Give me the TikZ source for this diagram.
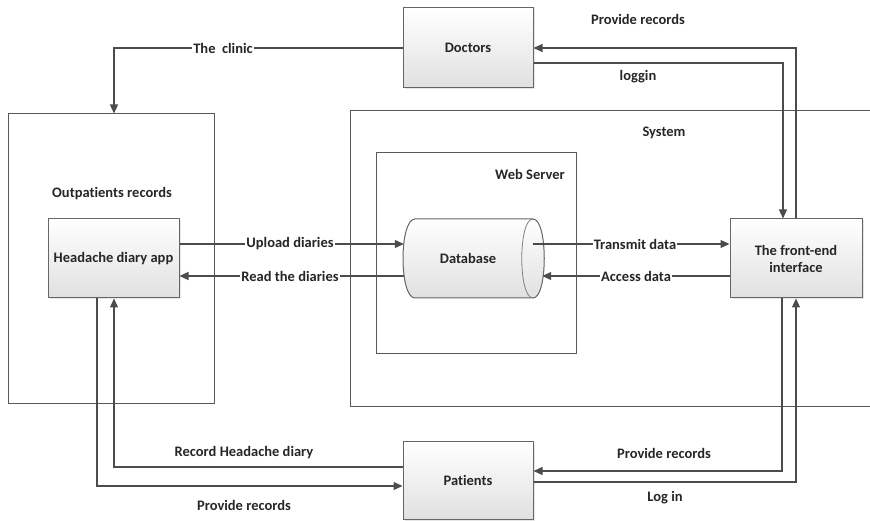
\documentclass[tikz,border=0pt]{standalone}
\usepackage{fontspec}
\setmainfont[Ligatures=NoCommon]{Carlito}
\usetikzlibrary{arrows.meta,calc,shadows}
\begin{document}
\begin{tikzpicture}[x=1pt,y=-1pt,
  every node/.style={font=\bfseries\fontsize{14.5}{17}\selectfont, text=black!85},
  box/.style={draw=black!60, line width=1pt, top color=white, bottom color=black!12,
    drop shadow={opacity=0.2, shadow xshift=1.5pt, shadow yshift=-1.5pt},
    align=center, inner sep=2pt},
  frame/.style={draw=black!65, line width=1pt},
  conn/.style={draw=black!70, line width=1.1pt},
  arr/.style={conn, -{Triangle[length=9pt,width=8pt]}},
  onlabel/.style={fill=white, inner sep=1pt},
  lbl/.style={inner sep=1pt}]
\useasboundingbox (0,0) rectangle (870,521);

% containers
\node[frame, minimum width=206pt, minimum height=289pt] (op) at (111,258.5) {};
\node[frame, minimum width=200pt, minimum height=200pt] (ws) at (476,253) {};
\draw[frame] (870,111) -- (350,111) -- (350,406) -- (870,406);
\node[lbl] (oplbl) at (112,194) {Outpatients records};
\node[lbl] (wslbl) at (530,174) {Web Server};
\node[lbl] (syslbl) at (664,133) {System};

% boxes
\node[box, minimum width=130pt, minimum height=80pt] (doc) at (468,48) {Doctors};
\node[box, minimum width=131pt, minimum height=79pt] (hd) at (113.5,258.5) {Headache diary app};
\node[box, minimum width=132pt, minimum height=79pt] (fe) at (796,258.5) {The front-end\\interface};
\node[box, minimum width=130pt, minimum height=78pt] (pat) at (468,480.5) {Patients};

% database cylinder
\node[minimum width=142pt, minimum height=79pt, inner sep=0pt] (db) at (474,258.5) {};
\draw[draw=black!60, line width=1pt, top color=white, bottom color=black!12]
  (533,219) -- (415,219) .. controls (399,219) and (399,298) .. (415,298) -- (533,298)
  .. controls (548,298) and (548,219) .. (533,219) -- cycle;
\draw[draw=black!50, line width=0.8pt]
  (533,219) .. controls (518,219) and (518,298) .. (533,298);
\node[lbl] (dblbl) at (468,258.5) {Database};

% connectors
\draw[arr] (doc.west) -| ($(op.north)+(3,0)$);
\node[onlabel] (l1) at (223,48) {The\ \ clinic};

\draw[arr] (fe.north) |- (doc.east);
\node[lbl] (l2) at (638,19) {Provide records};
\draw[arr] ($(doc.east)+(0,15)$) -| ($(fe.north)+(-13,0)$);
\node[lbl] (l3) at (638,77) {loggin};

\draw[arr] ($(hd.east)+(0,-14.5)$) -- ($(db.west)+(1,-14.5)$);
\node[onlabel] (l4) at (290,244) {Upload diaries};
\draw[arr] ($(db.west)+(1,17.5)$) -- ($(hd.east)+(0,17.5)$);
\node[onlabel] (l5) at (290,276) {Read the diaries};

\draw[arr] ($(db.east)+(-12,-14.5)$) -- ($(fe.west)+(0,-14.5)$);
\node[onlabel] (l6) at (635,244) {Transmit data};
\draw[arr] ($(fe.west)+(0,17.5)$) -- ($(db.east)+(-3,17.5)$);
\node[onlabel] (l7) at (636,276) {Access data};

\draw[arr] ($(pat.west)+(0,-13.5)$) -| ($(hd.south)+(0.5,0)$);
\node[lbl] (l8) at (244,453) {Record Headache diary};
\draw[arr] ($(hd.south)+(-16.5,0)$) |- ($(pat.west)+(0,5.5)$);
\node[lbl] (l9) at (244,505) {Provide records};

\draw[arr] ($(fe.south)+(-14,0)$) |- ($(pat.east)+(0,-9.5)$);
\node[lbl] (l10) at (664,453) {Provide records};
\draw[arr] ($(pat.east)+(0,1.5)$) -| (fe.south);
\node[lbl] (l11) at (665,498) {Log in};
\end{tikzpicture}
\end{document}
